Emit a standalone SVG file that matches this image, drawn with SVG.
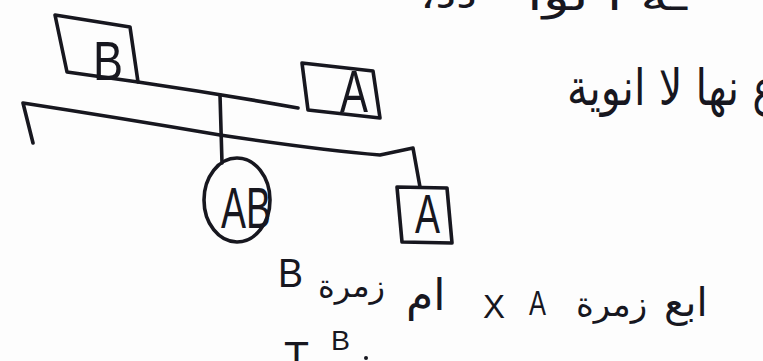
<svg xmlns="http://www.w3.org/2000/svg" width="763" height="361" viewBox="0 0 763 361">
<style>
.ln{fill:none;stroke:#17171f;stroke-width:3.6;stroke-linecap:round;stroke-linejoin:round}
.lat{font-family:"Liberation Sans",Arial,sans-serif;fill:#17171f}
.ar{font-family:"DejaVu Sans","Noto Sans",sans-serif;fill:#17171f}
</style>
<rect width="763" height="361" fill="#fdfdfd"/>
<g id="connectors">
<path class="ln" d="M138,82 Q220,94 298,108"/>
<path class="ln" d="M220,95 L222,163"/>
<path class="ln" d="M33,143 L23,103 Q120,118 220,135 Q320,150 380,155 L413,148 L420,187"/>
</g>
<g id="node-B">
<path class="ln" d="M130,27 L55,15 L67,72 L138,82 L130,27"/>
<text class="lat" x="93" y="80" font-size="56" textLength="30" lengthAdjust="spacingAndGlyphs">B</text>
</g>
<g id="node-A-top">
<path class="ln" d="M302,63 L373,71 L380,118 L308,110 Z"/>
<text class="lat" x="340" y="112" font-size="60" textLength="28" lengthAdjust="spacingAndGlyphs">A</text>
</g>
<g id="node-AB">
<ellipse class="ln" cx="237" cy="200" rx="33" ry="42"/>
<text class="lat" x="221" y="228" font-size="58" textLength="50" lengthAdjust="spacingAndGlyphs">AB</text>
</g>
<g id="node-A-bottom">
<path class="ln" d="M397,187 L447,188 L452,243 L402,242 Z"/>
<text class="lat" x="415" y="233" font-size="56" textLength="25" lengthAdjust="spacingAndGlyphs">A</text>
</g>
<g id="notes">
<text class="ar" x="420" y="8" font-size="36" textLength="57" lengthAdjust="spacingAndGlyphs">،دد</text>
<text class="ar" x="527" y="10" font-size="40" textLength="160" lengthAdjust="spacingAndGlyphs">ـه ا لوا</text>
<text class="ar" x="567" y="105" font-size="50" textLength="210" lengthAdjust="spacingAndGlyphs">ع نها لا انوية</text>
<text class="lat" x="278" y="287" font-size="40" textLength="25" lengthAdjust="spacingAndGlyphs">B</text>
<text class="ar" x="318" y="297" font-size="32">زمرة</text>
<text class="ar" x="406" y="310" font-size="44">ام</text>
<text class="lat" x="483" y="318" font-size="34" textLength="22" lengthAdjust="spacingAndGlyphs">X</text>
<text class="lat" x="529" y="315" font-size="35" textLength="17" lengthAdjust="spacingAndGlyphs">A</text>
<text class="ar" x="576" y="316" font-size="34">زمرة</text>
<text class="ar" x="664" y="316" font-size="40">ابع</text>
<text class="lat" x="284" y="370" font-size="40" textLength="25" lengthAdjust="spacingAndGlyphs">T</text>
<text class="lat" x="331" y="350" font-size="28" textLength="19" lengthAdjust="spacingAndGlyphs">B</text>
<circle cx="366" cy="358" r="2" fill="#17171f"/>
</g>
</svg>
